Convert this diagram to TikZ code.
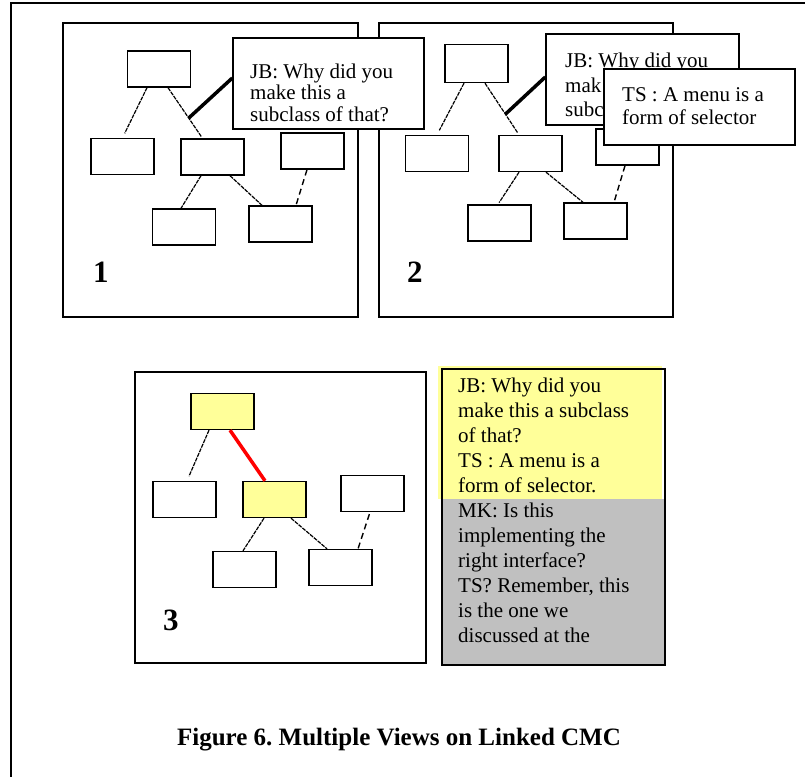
\documentclass[tikz,border=0pt]{standalone}
\usepackage{fontspec}
\setmainfont{Liberation Serif}
\frenchspacing
\definecolor{hiyel}{HTML}{FFFF99}
\definecolor{chatgray}{HTML}{C0C0C0}
\begin{document}
\begin{tikzpicture}[x=1pt,y=-1pt,
  box/.style={draw, line width=1.4pt, minimum width=63pt, minimum height=36pt, inner sep=0pt, fill=white},
  panel/.style={draw, line width=1.4pt, inner sep=0pt, fill=white},
  link/.style={line width=1.2pt, dash pattern=on 4pt off 1pt},
  dlink/.style={line width=1.4pt, dash pattern=on 6pt off 4pt},
  hot/.style={line width=3.5pt},
  txt/.style={anchor=base west, inner sep=0pt, font=\fontsize{21}{25}\selectfont},
  num/.style={anchor=base west, inner sep=0pt, font=\fontsize{31}{31}\selectfont\bfseries},
  callout/.style={draw, line width=1.4pt, fill=white, inner sep=0pt},
]
\useasboundingbox (0,0) rectangle (805,777);
% outer frame (top and left edges only)
\draw[line width=2.5pt] (805,3) -- (11,3) -- (11,777);

% ---------- panels 1 and 2 ----------
\node[panel, minimum width=295pt, minimum height=294pt] (p1) at (210.5,170) {};
\node[panel, minimum width=294pt, minimum height=294pt] (p2) at (526,170) {};

% tree 1
\node[box] (r1) at (159,69) {};
\node[box] (a1) at (122.5,156.5) {};
\node[box] (b1) at (212.5,157) {};
\node[box] (c1) at (312.5,151) {};
\node[box] (d1) at (184,227) {};
\node[box] (e1) at (280.5,224) {};
\draw[link, shorten >=5pt] ([xshift=-12pt]r1.south) -- (a1.north);
\draw[link, shorten >=2pt] ([xshift=9pt]r1.south) -- coordinate[pos=0.6] (m1) ([xshift=-10pt]b1.north);
\draw[link] ([xshift=-11.5pt]b1.south) -- ([xshift=-3pt]d1.north);
\draw[link] ([xshift=17.5pt]b1.south) -- ([xshift=-18.5pt]e1.north);
\draw[dlink] ([xshift=-5.5pt]c1.south) -- ([xshift=15.5pt]e1.north);
\node[num] (n1) at (93,282) {1};

% tree 2
\node[box, minimum height=38pt] (r2) at (476.5,63.5) {};
\node[box] (a2) at (437,153.5) {};
\node[box] (b2) at (530.5,153.5) {};
\node[box] (c2) at (627.5,147) {};
\node[box] (d2) at (499.5,223) {};
\node[box] (e2) at (595.5,221) {};
\draw[link, shorten >=5pt] ([xshift=-12.5pt]r2.south) -- (a2.north);
\draw[link, shorten >=2pt] ([xshift=8.5pt]r2.south) -- coordinate[pos=0.6] (m2) ([xshift=-11.5pt]b2.north);
\draw[link, shorten >=2pt] ([xshift=-11.5pt]b2.south) -- ([xshift=-1.5pt]d2.north);
\draw[link] ([xshift=15.5pt]b2.south) -- ([xshift=-12.5pt]e2.north);
\draw[dlink, shorten >=2pt] ([xshift=-2.5pt]c2.south) -- ([xshift=18.5pt]e2.north);
\node[num] (n2) at (407,282) {2};

% callout of panel 1
\node[callout, minimum width=191pt, minimum height=91pt] (k1) at (328.5,83.5) {};
\draw[hot] (m1) -- ([yshift=5.5pt]k1.west);
\node[txt] (k1t1) at (250,78) {JB: Why did you};
\node[txt] (k1t2) at (250,99.5) {make this a};
\node[txt] (k1t3) at (250,121) {subclass of that?};

% callouts of panel 2
\node[callout, minimum width=193pt, minimum height=91pt] (k2) at (642.5,79.5) {};
\draw[hot] (m2) -- ([yshift=2.5pt]k2.west);
\node[txt] (k2t1) at (565,67) {JB: Why did you};
\node[txt] (k2t2) at (565,92) {mak};
\node[txt] (k2t3) at (565,116) {subc};
\node[callout, minimum width=191pt, minimum height=76pt] (k3) at (699.5,107) {};
\node[txt] (k3t1) at (622,101) {TS : A menu is a};
\node[txt] (k3t2) at (622,124) {form of selector};

% ---------- panel 3 ----------
\node[panel, minimum width=291pt, minimum height=291pt] (p3) at (280.5,517.5) {};
\node[box, fill=hiyel] (r3) at (222.5,411.5) {};
\node[box] (a3) at (184.5,499.5) {};
\node[box, fill=hiyel] (b3) at (274.5,499.5) {};
\node[box] (c3) at (372.5,493.5) {};
\node[box] (d3) at (244.5,569.5) {};
\node[box] (e3) at (340.5,567.5) {};
\draw[link, shorten >=5pt] ([xshift=-13.5pt]r3.south) -- ([xshift=2.5pt]a3.north);
\draw[red, line width=3.5pt] ([xshift=7.5pt]r3.south) -- ([xshift=-9.5pt]b3.north);
\draw[link] ([xshift=-10.5pt]b3.south) -- ([xshift=-1.5pt]d3.north);
\draw[link] ([xshift=16.5pt]b3.south) -- ([xshift=-13.5pt]e3.north);
\draw[dlink, shorten <=2pt] ([xshift=-2.5pt]c3.south) -- ([xshift=17.5pt]e3.north);
\node[num] (n3) at (163,630) {3};

% ---------- chat panel ----------
\node[fill=hiyel, inner sep=0pt, minimum width=224pt, minimum height=133pt] (chy) at (550,432.5) {};
\node[fill=chatgray, inner sep=0pt, minimum width=223pt, minimum height=166pt] (chg) at (553.5,582) {};
\node[draw, line width=1.4pt, inner sep=0pt, minimum width=223pt, minimum height=296pt] (chf) at (553.5,517) {};
\foreach [count=\i] \t in {JB: Why did you, make this a subclass, of that?, TS : A menu is a, form of selector., MK: Is this, implementing the, right interface?, {TS? Remember, this}, is the one we, discussed at the}
  \node[txt] (ch\i) at (458,{392+25*(\i-1)}) {\t};

% ---------- caption ----------
\node[anchor=base, inner sep=0pt, font=\fontsize{25}{25}\selectfont\bfseries] (cap) at (399,745) {Figure 6. Multiple Views on Linked CMC};
\end{tikzpicture}
\end{document}
